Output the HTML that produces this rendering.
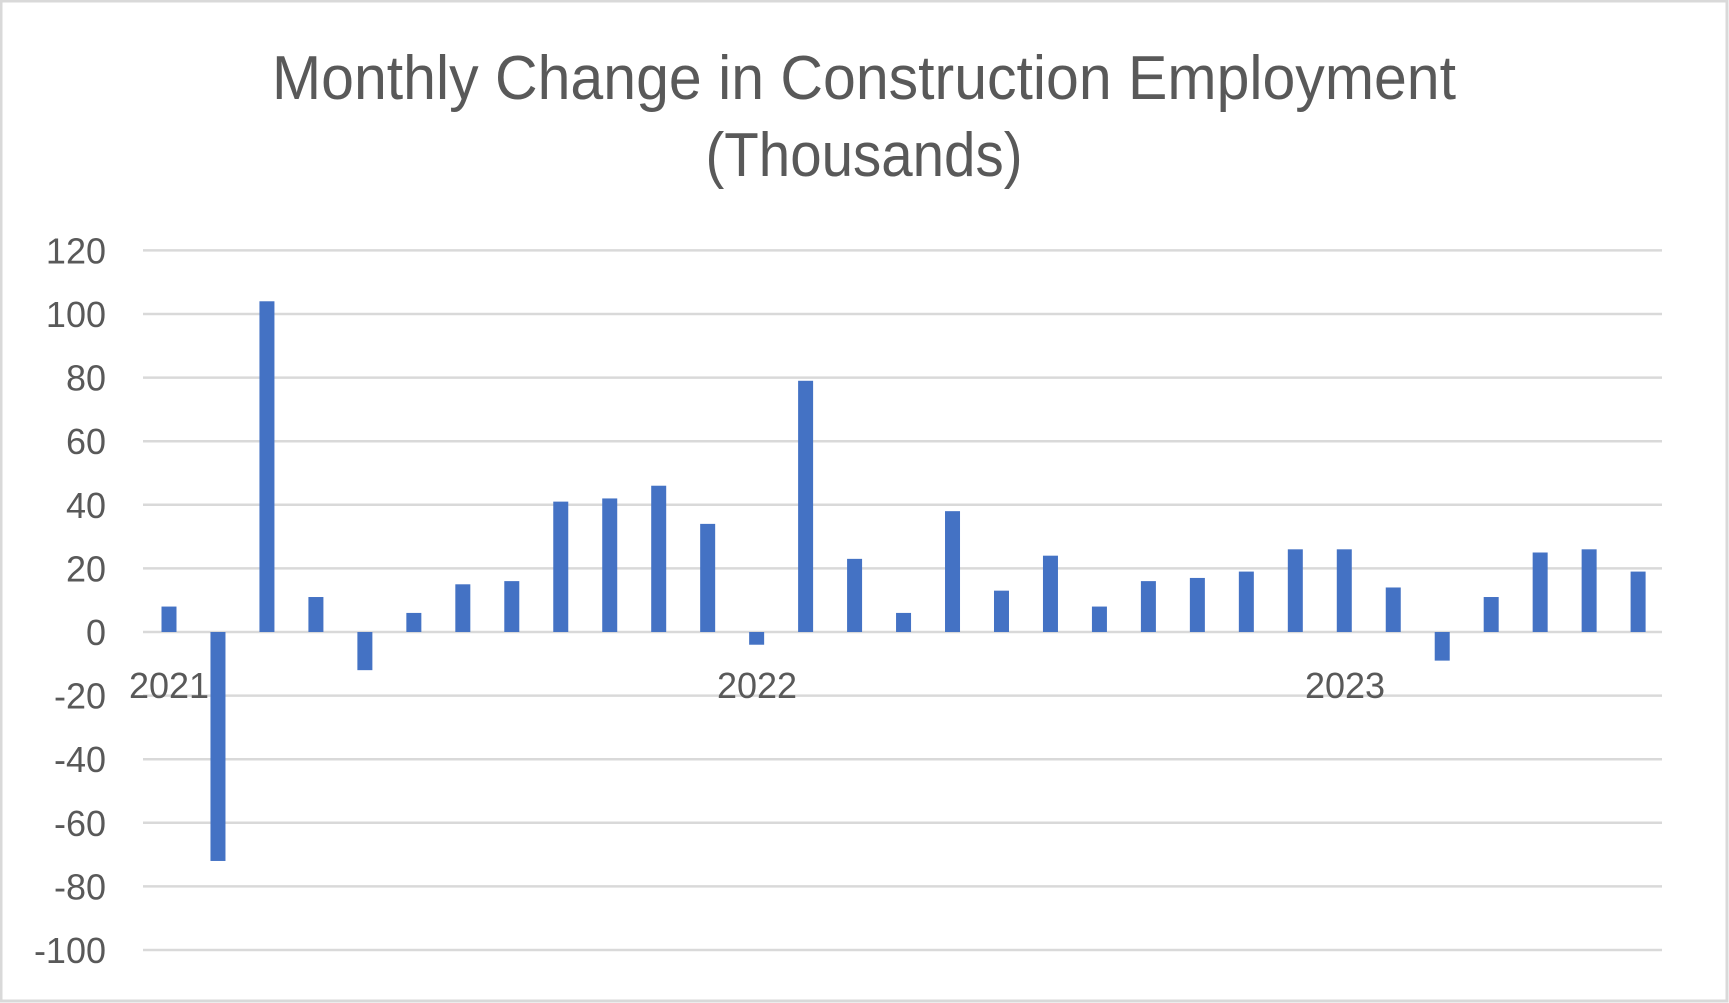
<!DOCTYPE html>
<html><head><meta charset="utf-8"><style>html,body{margin:0;padding:0;background:#fff}svg{display:block}</style></head>
<body>
<svg width="1729" height="1003" xmlns="http://www.w3.org/2000/svg" font-family="Liberation Sans, sans-serif">
<rect x="1" y="1" width="1726" height="1000" fill="#fff" stroke="#d9d9d9" stroke-width="3"/>
<text x="864" y="99" text-anchor="middle" font-size="62" fill="#595959" textLength="1184" lengthAdjust="spacingAndGlyphs">Monthly Change in Construction Employment</text>
<text x="864" y="176" text-anchor="middle" font-size="62" fill="#595959" textLength="317" lengthAdjust="spacingAndGlyphs">(Thousands)</text>
<g id="grid" stroke="#d9d9d9" stroke-width="2.5"></g>
<g id="ylab" font-size="36" fill="#595959" text-anchor="end"></g>
<g id="bars" fill="#4472c4"></g>
<g font-size="36" fill="#595959" text-anchor="middle">
<text x="169" y="698">2021</text>
<text x="757" y="698">2022</text>
<text x="1345" y="698">2023</text>
</g>
</svg>
<script>
var ns="http://www.w3.org/2000/svg";
var zero=632, per=63.6/20;
var g=document.getElementById('grid'), yl=document.getElementById('ylab'), b=document.getElementById('bars');
for(var v=-100;v<=120;v+=20){
 var y=zero-v*per;
 var l=document.createElementNS(ns,'line');l.setAttribute('x1',143);l.setAttribute('x2',1662);l.setAttribute('y1',y);l.setAttribute('y2',y);g.appendChild(l);
 var t=document.createElementNS(ns,'text');t.setAttribute('x',106);t.setAttribute('y',y+13);t.textContent=v;yl.appendChild(t);
}
var d=[8,-72,104,11,-12,6,15,16,41,42,46,34,-4,79,23,6,38,13,24,8,16,17,19,26,26,14,-9,11,25,26,19];
d.forEach(function(v,i){
 var cx=169+i*48.97, h=Math.abs(v)*per;
 var r=document.createElementNS(ns,'rect');
 r.setAttribute('x',cx-7.5);r.setAttribute('width',15);
 r.setAttribute('y',v>=0?zero-h:zero);r.setAttribute('height',h);b.appendChild(r);
});
</script>
</body></html>
